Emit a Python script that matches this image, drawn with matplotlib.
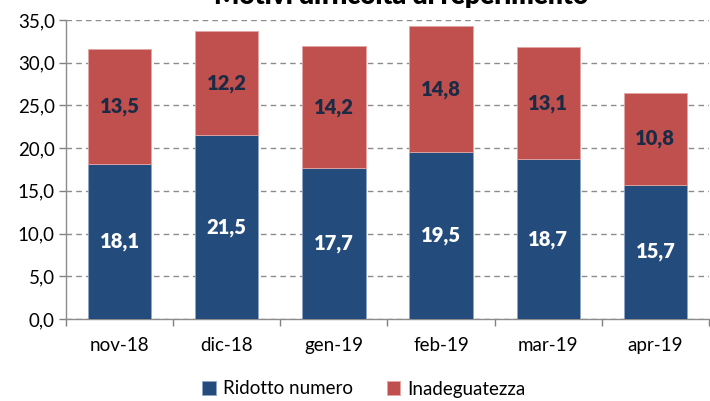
import numpy as np
import matplotlib
matplotlib.use('Agg')
import matplotlib.pyplot as plt
from matplotlib.ticker import MultipleLocator, FuncFormatter

plt.rcParams['font.family'] = ['Lato', 'DejaVu Sans']

# data
mesi = ['nov-18', 'dic-18', 'gen-19', 'feb-19', 'mar-19', 'apr-19']
ridotto_numero = [18.1, 21.5, 17.7, 19.5, 18.7, 15.7]
inadeguatezza = [13.5, 12.2, 14.2, 14.8, 13.1, 10.8]

blu = '#234b7c'
rosso = '#c0504d'

fig = plt.figure(figsize=(7.10, 4.01), dpi=100)
ax = fig.add_axes([66 / 710, 1 - 319 / 401, 643 / 710, 299 / 401])

x = np.arange(len(mesi))
w = 0.59
b1 = ax.bar(x, ridotto_numero, w, color=blu, edgecolor='#8ea6c8', linewidth=0.6,
            label='Ridotto numero', zorder=3)
b2 = ax.bar(x, inadeguatezza, w, bottom=ridotto_numero, color=rosso,
            edgecolor='#e3a6a4', linewidth=0.6, label='Inadeguatezza', zorder=3)

def fmt(v):
    return f'{v:.1f}'.replace('.', ',')

for i in range(len(mesi)):
    ax.text(x[i], ridotto_numero[i] / 2, fmt(ridotto_numero[i]), ha='center', va='center',
            color='white', fontsize=14.5, fontweight='heavy', zorder=4)
    ax.text(x[i], ridotto_numero[i] + inadeguatezza[i] / 2, fmt(inadeguatezza[i]),
            ha='center', va='center', color='#1c2b45', fontsize=14.5, fontweight='heavy', zorder=4)

ax.set_xlim(-0.5, len(mesi) - 0.5)
ax.set_ylim(0, 35)
ax.yaxis.set_major_locator(MultipleLocator(5))
ax.yaxis.set_major_formatter(FuncFormatter(lambda v, p: fmt(v)))
ax.set_xticks(x)
ax.set_xticklabels(mesi)
ax.set_xticks(np.arange(-0.5, len(mesi), 1), minor=True)
ax.tick_params(axis='x', which='major', length=0, pad=13, labelsize=13.5)
ax.tick_params(axis='x', which='minor', length=5, color='#808080', width=1)
ax.tick_params(axis='y', length=5, color='#808080', width=1, labelsize=13.5, pad=3)

ax.grid(axis='y', linestyle=(0, (4, 3)), color='#8c8c8c', linewidth=1, zorder=0)
for s in ['top', 'right']:
    ax.spines[s].set_visible(False)
for s in ['left', 'bottom']:
    ax.spines[s].set_color('#8c8c8c')
    ax.spines[s].set_linewidth(1)

# title is partly clipped at the top, as in the original
fig.text(401 / 710, 1.0 - 4 / 401, 'Motivi difficoltà di reperimento', ha='center',
         va='baseline', fontsize=19, fontweight='heavy')

fig.legend(handles=[b1, b2], loc='center', bbox_to_anchor=(364 / 710, 1 - 389 / 401), ncol=2,
           frameon=False, fontsize=13.5, handlelength=0.7, handleheight=0.7,
           handletextpad=0.4, columnspacing=1.8)

fig.savefig('out.png', dpi=100)
